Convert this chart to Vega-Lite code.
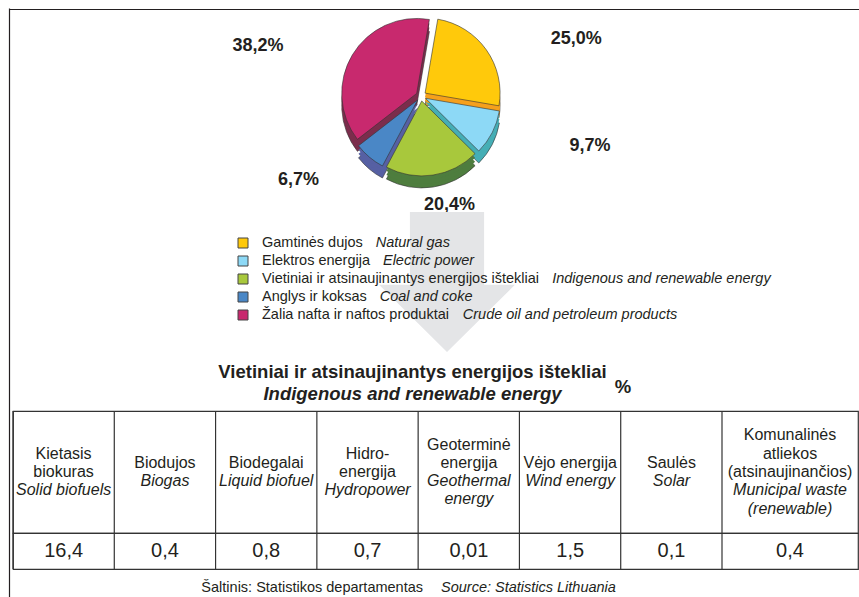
{
  "$schema": "https://vega.github.io/schema/vega-lite/v6.json",
  "padding": {"left": 6, "top": 5, "right": 0, "bottom": 0},
  "background": "white",
  "bounds": "flush",
  "spacing": 0,
  "config": {"font": "Liberation Sans", "view": {"stroke": null}},
  "datasets": {
    "pie": [
      {"cat": "Gamtinės dujos", "en": "Natural gas", "v": 25.0, "lab": "25,0%", "o": 1},
      {"cat": "Elektros energija", "en": "Electric power", "v": 9.7, "lab": "9,7%", "o": 2},
      {"cat": "Vietiniai ir atsinaujinantys energijos ištekliai", "en": "Indigenous and renewable energy", "v": 20.4, "lab": "20,4%", "o": 3},
      {"cat": "Anglys ir koksas", "en": "Coal and coke", "v": 6.7, "lab": "6,7%", "o": 4},
      {"cat": "Žalia nafta ir naftos produktai", "en": "Crude oil and petroleum products", "v": 38.2, "lab": "38,2%", "o": 5}
    ],
    "tbl": [
      {"i": 0, "lt": "Kietasis\nbiokuras", "en": "Solid biofuels", "val": "16,4"},
      {"i": 1, "lt": "Biodujos", "en": "Biogas", "val": "0,4"},
      {"i": 2, "lt": "Biodegalai", "en": "Liquid biofuel", "val": "0,8"},
      {"i": 3, "lt": "Hidro-\nenergija", "en": "Hydropower", "val": "0,7"},
      {"i": 4, "lt": "Geoterminė\nenergija", "en": "Geothermal\nenergy", "val": "0,01"},
      {"i": 5, "lt": "Vėjo energija", "en": "Wind energy", "val": "1,5"},
      {"i": 6, "lt": "Saulės", "en": "Solar", "val": "0,1"},
      {"i": 7, "lt": "Komunalinės\natliekos\n(atsinaujinančios)", "en": "Municipal waste\n(renewable)", "val": "0,4"}
    ]
  },
  "vconcat": [
    {
      "width": 845,
      "height": 206,
      "data": {"name": "pie"},
      "layer": [
        {
          "data": {"values": [{}]},
          "mark": {"type": "point", "opacity": 0},
          "encoding": {
            "x": {"datum": 0, "type": "quantitative", "scale": {"domain": [0, 1], "range": [-4, 847], "nice": false, "zero": false},
                  "axis": {"orient": "top", "domain": true, "domainColor": "#231f20", "domainWidth": 1.2, "labels": false, "ticks": false, "grid": false, "title": null}},
            "y": {"datum": 0, "type": "quantitative", "scale": {"domain": [0, 1], "range": [-1, 592], "nice": false, "zero": false},
                  "axis": {"orient": "left", "offset": 4, "domain": true, "domainColor": "#231f20", "domainWidth": 1.2, "labels": false, "ticks": false, "grid": false, "title": null}}
          }
        },
        {
          "mark": {"type": "arc", "radius": 75, "stroke": "#333333", "strokeWidth": 0.6,
                   "xOffset": {"expr": "-14.5 + 5*sin(0.17 + PI*(datum.v_start + datum.v_end)/100)"},
                   "yOffset": {"expr": "-4 - 5*cos(0.17 + PI*(datum.v_start + datum.v_end)/100)"}},
          "encoding": {
            "theta": {"field": "v", "type": "quantitative", "stack": true, "scale": {"range": [0.17, 6.4532]}},
            "order": {"field": "o"},
            "color": {"field": "cat", "type": "nominal", "legend": null,
                      "scale": {"domain": ["Gamtinės dujos", "Elektros energija", "Vietiniai ir atsinaujinantys energijos ištekliai", "Anglys ir koksas", "Žalia nafta ir naftos produktai"],
                                "range": ["#F5A01C", "#45AEB5", "#4E7D3E", "#5660A3", "#7B2D4C"]}}
          }
        },
        {
          "mark": {"type": "arc", "radius": 75,
                   "xOffset": {"expr": "-14.5 + 5*sin(0.17 + PI*(datum.v_start + datum.v_end)/100)"},
                   "yOffset": {"expr": "-8 - 5*cos(0.17 + PI*(datum.v_start + datum.v_end)/100)"}},
          "encoding": {
            "theta": {"field": "v", "type": "quantitative", "stack": true, "scale": {"range": [0.17, 6.4532]}},
            "order": {"field": "o"},
            "color": {"field": "cat", "type": "nominal", "legend": null,
                      "scale": {"domain": ["Gamtinės dujos", "Elektros energija", "Vietiniai ir atsinaujinantys energijos ištekliai", "Anglys ir koksas", "Žalia nafta ir naftos produktai"],
                                "range": ["#F5A01C", "#45AEB5", "#4E7D3E", "#5660A3", "#7B2D4C"]}}
          }
        },
        {
          "mark": {"type": "arc", "radius": 75,
                   "xOffset": {"expr": "-14.5 + 5*sin(0.17 + PI*(datum.v_start + datum.v_end)/100)"},
                   "yOffset": {"expr": "-12 - 5*cos(0.17 + PI*(datum.v_start + datum.v_end)/100)"}},
          "encoding": {
            "theta": {"field": "v", "type": "quantitative", "stack": true, "scale": {"range": [0.17, 6.4532]}},
            "order": {"field": "o"},
            "color": {"field": "cat", "type": "nominal", "legend": null,
                      "scale": {"domain": ["Gamtinės dujos", "Elektros energija", "Vietiniai ir atsinaujinantys energijos ištekliai", "Anglys ir koksas", "Žalia nafta ir naftos produktai"],
                                "range": ["#F5A01C", "#45AEB5", "#4E7D3E", "#5660A3", "#7B2D4C"]}}
          }
        },
        {
          "mark": {"type": "arc", "radius": 75, "stroke": "#333333", "strokeWidth": 0.6,
                   "xOffset": {"expr": "-14.5 + 5*sin(0.17 + PI*(datum.v_start + datum.v_end)/100)"},
                   "yOffset": {"expr": "-16 - 5*cos(0.17 + PI*(datum.v_start + datum.v_end)/100)"}},
          "encoding": {
            "theta": {"field": "v", "type": "quantitative", "stack": true, "scale": {"range": [0.17, 6.4532]}},
            "order": {"field": "o"},
            "color": {"field": "cat", "type": "nominal", "legend": null,
                      "scale": {"domain": ["Gamtinės dujos", "Elektros energija", "Vietiniai ir atsinaujinantys energijos ištekliai", "Anglys ir koksas", "Žalia nafta ir naftos produktai"],
                                "range": ["#FFC90B", "#8DD9F6", "#A8C83C", "#4A87C6", "#C8296E"]}}
          }
        },
        {
          "mark": {"type": "text", "radius": 0, "fontSize": 18, "fontWeight": "bold", "color": "#231f20", "baseline": "middle", "align": "center",
                   "xOffset": {"expr": "-14.5 + 190*sin(0.17 + PI*(datum.v_start + datum.v_end)/100)"},
                   "yOffset": {"expr": "-16 - 98*cos(0.17 + PI*(datum.v_start + datum.v_end)/100) + (cos(0.17 + PI*(datum.v_start + datum.v_end)/100) < 0 ? -12*cos(0.17 + PI*(datum.v_start + datum.v_end)/100) : 0)"}},
          "encoding": {
            "theta": {"field": "v", "type": "quantitative", "stack": true, "scale": {"range": [0.17, 6.4532]}},
            "order": {"field": "o"},
            "text": {"field": "lab", "type": "nominal"}
          }
        }
      ],
      "resolve": {"scale": {"color": "independent"}}
    },
    {
      "width": 845,
      "height": 196,
      "data": {"name": "pie"},
      "layer": [
        {
          "data": {"values": [{}]},
          "mark": {"type": "point", "shape": "M-0.53,-1L0.53,-1L0.53,0.04L0.97,0.04L0,1L-0.97,0.04L-0.53,0.04Z", "size": 19600, "filled": true, "color": "#E4E5E7", "opacity": 1, "strokeWidth": 0},
          "encoding": {"x": {"value": 434}, "y": {"value": 67}}
        },
        {
          "mark": {"type": "point", "shape": "square", "size": 100, "filled": true, "stroke": "#444444", "strokeWidth": 1, "opacity": 1},
          "encoding": {
            "x": {"value": 230},
            "y": {"field": "cat", "type": "nominal", "axis": null,
                  "scale": {"type": "point", "domain": ["Gamtinės dujos", "Elektros energija", "Vietiniai ir atsinaujinantys energijos ištekliai", "Anglys ir koksas", "Žalia nafta ir naftos produktai"], "range": [28, 100], "padding": 0}},
            "color": {"field": "cat", "type": "nominal", "legend": null,
                      "scale": {"domain": ["Gamtinės dujos", "Elektros energija", "Vietiniai ir atsinaujinantys energijos ištekliai", "Anglys ir koksas", "Žalia nafta ir naftos produktai"],
                                "range": ["#FFC90B", "#8DD9F6", "#A8C83C", "#4A87C6", "#C8296E"]}}
          }
        },
        {
          "mark": {"type": "text", "align": "left", "baseline": "middle", "fontSize": 14.5, "color": "#231f20"},
          "encoding": {
            "x": {"value": 249},
            "y": {"field": "cat", "type": "nominal", "axis": null,
                  "scale": {"type": "point", "domain": ["Gamtinės dujos", "Elektros energija", "Vietiniai ir atsinaujinantys energijos ištekliai", "Anglys ir koksas", "Žalia nafta ir naftos produktai"], "range": [28, 100], "padding": 0}},
            "text": {"field": "cat", "type": "nominal"}
          }
        },
        {
          "mark": {"type": "text", "align": "left", "baseline": "middle", "fontSize": 14.5, "fontStyle": "italic", "color": "#231f20",
                   "dx": {"expr": "13 + 0.0145*(556*length(datum.cat) - 334*(length(datum.cat)-length(replace(datum.cat, regexp('[ijl]','g'), ''))) - 278*(length(datum.cat)-length(replace(datum.cat, regexp('[tf ]','g'), ''))) - 223*(length(datum.cat)-length(replace(datum.cat, regexp('[r]','g'), ''))) - 56*(length(datum.cat)-length(replace(datum.cat, regexp('[skcvxyzčšž]','g'), ''))) + 111*(length(datum.cat)-length(replace(datum.cat, regexp('[ABEKPSVXYŽ]','g'), ''))) + 222*(length(datum.cat)-length(replace(datum.cat, regexp('[GOQ]','g'), ''))) + 277*(length(datum.cat)-length(replace(datum.cat, regexp('[mM]','g'), ''))) + 166*(length(datum.cat)-length(replace(datum.cat, regexp('[CDHNRUw]','g'), ''))))"}},
          "encoding": {
            "x": {"value": 249},
            "y": {"field": "cat", "type": "nominal", "axis": null,
                  "scale": {"type": "point", "domain": ["Gamtinės dujos", "Elektros energija", "Vietiniai ir atsinaujinantys energijos ištekliai", "Anglys ir koksas", "Žalia nafta ir naftos produktai"], "range": [28, 100], "padding": 0}},
            "text": {"field": "en", "type": "nominal"}
          }
        }
      ]
    },
    {
      "width": 845,
      "height": 122,
      "view": {"stroke": "#333333", "strokeWidth": 1.2},
      "data": {"name": "tbl"},
      "title": {"text": "Vietiniai ir atsinaujinantys energijos ištekliai", "subtitle": "Indigenous and renewable energy",
                "anchor": "middle", "frame": "group", "dx": -23, "offset": -25,
                "fontSize": 18.5, "fontWeight": "bold", "color": "#231f20",
                "subtitleFontSize": 18.5, "subtitleFontWeight": "bold", "subtitleFontStyle": "italic", "subtitleColor": "#231f20", "subtitlePadding": 3},
      "layer": [
        {
          "mark": {"type": "rule", "color": "#333333", "strokeWidth": 1.2},
          "encoding": {"x": {"field": "i", "type": "quantitative", "axis": null, "scale": {"domain": [0, 7, 8], "range": [0, 709, 845], "nice": false, "zero": false}}}
        },
        {
          "mark": {"type": "text", "align": "center", "baseline": "middle", "fontSize": 16, "lineHeight": 18.3, "lineBreak": "\n", "color": "#231f20",
                   "dy": {"expr": "-9.15*(length(split(datum.lt, '\\n')) + length(split(datum.en, '\\n')) - 1)"}},
          "encoding": {
            "x": {"field": "i", "type": "quantitative", "axis": null, "scale": {"domain": [0, 6, 7], "range": [50.6, 658.5, 777], "nice": false, "zero": false}},
            "text": {"field": "lt", "type": "nominal"}
          }
        },
        {
          "mark": {"type": "text", "align": "center", "baseline": "middle", "fontSize": 16, "lineHeight": 18.3, "lineBreak": "\n", "fontStyle": "italic", "color": "#231f20",
                   "dy": {"expr": "9.15*(length(split(datum.lt, '\\n')) - length(split(datum.en, '\\n')) + 1)"}},
          "encoding": {
            "x": {"field": "i", "type": "quantitative", "axis": null, "scale": {"domain": [0, 6, 7], "range": [50.6, 658.5, 777], "nice": false, "zero": false}},
            "text": {"field": "en", "type": "nominal"}
          }
        },
        {
          "data": {"values": [{"u": "%"}]},
          "mark": {"type": "text", "align": "center", "baseline": "middle", "fontSize": 18.5, "fontWeight": "bold", "color": "#231f20"},
          "encoding": {"x": {"value": 610}, "y": {"value": -24}, "text": {"field": "u", "type": "nominal"}}
        }
      ],
      "resolve": {"scale": {"x": "independent"}}
    },
    {
      "width": 845,
      "height": 36,
      "view": {"stroke": "#333333", "strokeWidth": 1.2},
      "data": {"name": "tbl"},
      "layer": [
        {
          "mark": {"type": "rule", "color": "#333333", "strokeWidth": 1.2},
          "encoding": {"x": {"field": "i", "type": "quantitative", "axis": null, "scale": {"domain": [0, 7, 8], "range": [0, 709, 845], "nice": false, "zero": false}}}
        },
        {
          "mark": {"type": "text", "align": "center", "baseline": "middle", "fontSize": 20, "color": "#231f20"},
          "encoding": {
            "x": {"field": "i", "type": "quantitative", "axis": null, "scale": {"domain": [0, 6, 7], "range": [50.6, 658.5, 777], "nice": false, "zero": false}},
            "text": {"field": "val", "type": "nominal"}
          }
        }
      ],
      "resolve": {"scale": {"x": "independent"}}
    },
    {
      "width": 845,
      "height": 31,
      "data": {"values": [{"lt": "Šaltinis: Statistikos departamentas", "en": "Source: Statistics Lithuania"}]},
      "layer": [
        {
          "mark": {"type": "text", "align": "right", "baseline": "middle", "fontSize": 14.5, "dy": 3, "color": "#231f20"},
          "encoding": {"x": {"value": 410}, "text": {"field": "lt", "type": "nominal"}}
        },
        {
          "mark": {"type": "text", "align": "left", "baseline": "middle", "fontSize": 14.5, "dy": 3, "fontStyle": "italic", "color": "#231f20"},
          "encoding": {"x": {"value": 428}, "text": {"field": "en", "type": "nominal"}}
        }
      ]
    }
  ]
}
